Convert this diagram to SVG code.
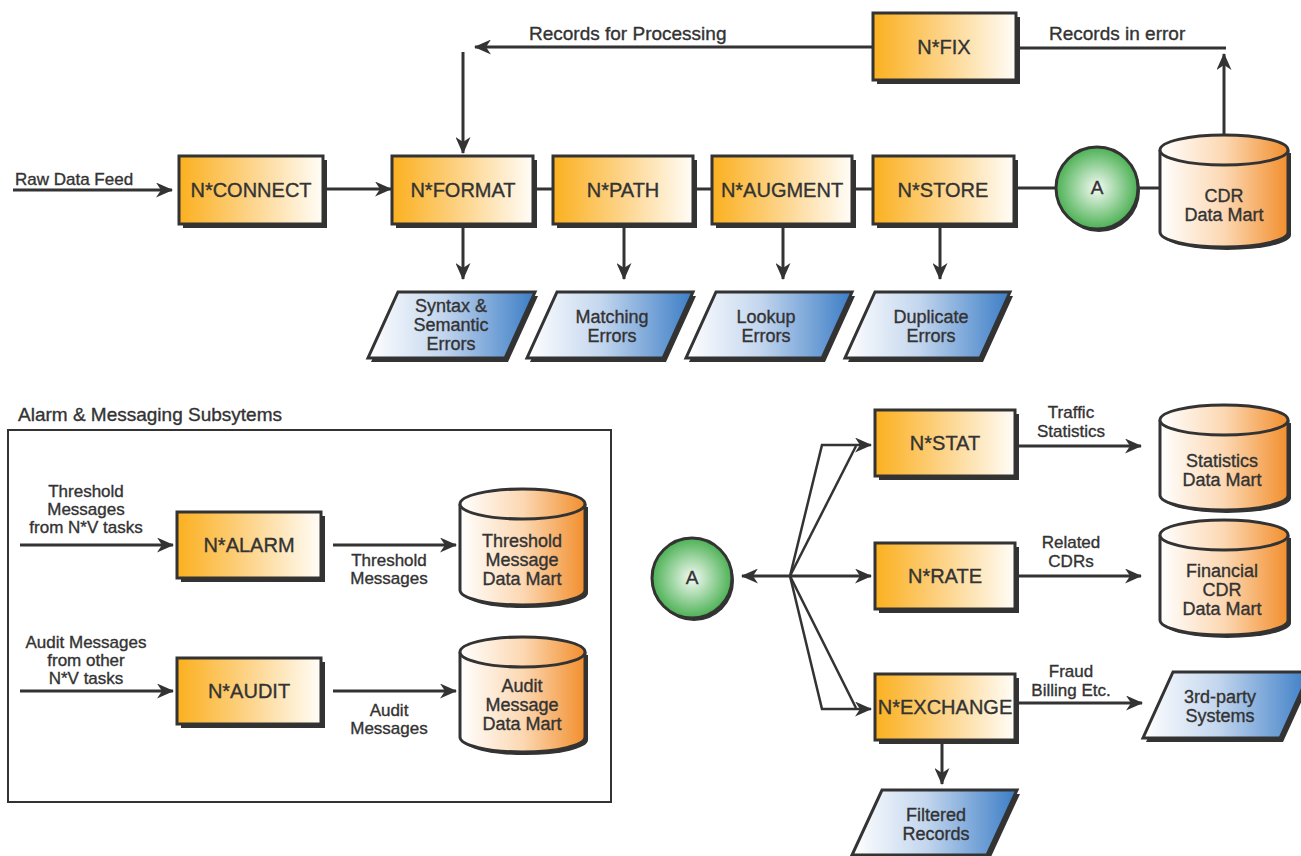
<svg xmlns="http://www.w3.org/2000/svg" width="1301" height="856" viewBox="0 0 1301 856">
<defs>
<linearGradient id="gBox" x1="0" y1="0" x2="1" y2="0"><stop offset="0" stop-color="#fbb01f"/><stop offset="0.5" stop-color="#fdd48a"/><stop offset="1" stop-color="#fffdf8"/></linearGradient>
<linearGradient id="gPar" x1="0" y1="0" x2="1" y2="0"><stop offset="0" stop-color="#ffffff"/><stop offset="0.45" stop-color="#c3d6ee"/><stop offset="1" stop-color="#3b7dc6"/></linearGradient>
<linearGradient id="gCyl" x1="0" y1="0" x2="1" y2="0"><stop offset="0" stop-color="#ffffff"/><stop offset="0.5" stop-color="#fcd8b3"/><stop offset="1" stop-color="#f28f2e"/></linearGradient>
<radialGradient id="gCir" cx="0.5" cy="0.5" r="0.5"><stop offset="0" stop-color="#f5fbf5"/><stop offset="1" stop-color="#4cb154"/></radialGradient>
<marker id="ah" markerWidth="17" markerHeight="15" refX="16" refY="7.5" orient="auto" markerUnits="userSpaceOnUse"><path d="M0,0 L17,7.5 L0,15 L5,7.5 Z" fill="#333"/></marker>
</defs>
<style>
.sh{fill:#333}
.box{fill:url(#gBox);stroke:#333;stroke-width:3}
.par{fill:url(#gPar);stroke:#333;stroke-width:3}
.cyl{fill:url(#gCyl);stroke:#333;stroke-width:3}
.cir{fill:url(#gCir);stroke:#333;stroke-width:3}
text{font-family:"Liberation Sans",Arial,sans-serif;fill:#333;stroke:#333;stroke-width:0.35}
.bl{font-size:20px;text-anchor:middle}
.el{font-size:19px}
.lc{font-size:17px;text-anchor:middle}
.nt{font-size:18px;text-anchor:middle}
.ln{fill:none;stroke:#333;stroke-width:3}
.la{fill:none;stroke:#333;stroke-width:3;marker-end:url(#ah)}
.fan{fill:none;stroke:#333;stroke-width:2.5}
</style>
<rect width="1301" height="856" fill="#fff"/>

<g id="connectors">
<path class="la" d="M13,190 H172"/>
<path class="la" d="M323,189 H391"/>
<path class="ln" d="M533,189 H873"/>
<path class="ln" d="M1015,188 H1160"/>
<path class="la" d="M463,224 V279"/>
<path class="la" d="M624,224 V279"/>
<path class="la" d="M783,224 V279"/>
<path class="la" d="M940,224 V279"/>
<path class="la" d="M873,47 H475"/>
<path class="la" d="M463,52 V153"/>
<path class="ln" d="M1016,48 H1226"/>
<path class="la" d="M1224,150 V54"/>
<path class="la" d="M790,576 H742"/>
<path class="la" d="M790,576 H871"/>
<path class="la fan" d="M790,576 L822,445 H871"/>
<path class="fan" d="M790,576 L856,446"/>
<path class="la fan" d="M790,576 L822,709 H871"/>
<path class="fan" d="M790,576 L856,708"/>
<path class="la" d="M1017,446 H1141"/>
<path class="la" d="M1017,576 H1141"/>
<path class="la" d="M1017,703 H1142"/>
<path class="la" d="M942,741 V784"/>
<path class="la" d="M20,545 H173"/>
<path class="la" d="M333,545 H456"/>
<path class="la" d="M20,691 H173"/>
<path class="la" d="M333,691 H456"/>
</g>

<g id="edge-labels">
<text class="el" x="15" y="185" style="font-size:17px">Raw Data Feed</text>
<text class="el" x="529" y="40">Records for Processing</text>
<text class="el" x="1049" y="40">Records in error</text>
<text class="lc" x="1071" y="418">Traffic</text>
<text class="lc" x="1071" y="437">Statistics</text>
<text class="lc" x="1071" y="548">Related</text>
<text class="lc" x="1071" y="567">CDRs</text>
<text class="lc" x="1071" y="677">Fraud</text>
<text class="lc" x="1071" y="696">Billing Etc.</text>
<text class="lc" x="86" y="497">Threshold</text>
<text class="lc" x="86" y="515">Messages</text>
<text class="lc" x="86" y="533">from N*V tasks</text>
<text class="lc" x="389" y="566">Threshold</text>
<text class="lc" x="389" y="584">Messages</text>
<text class="lc" x="86" y="648">Audit Messages</text>
<text class="lc" x="86" y="666">from other</text>
<text class="lc" x="86" y="684">N*V tasks</text>
<text class="lc" x="389" y="716">Audit</text>
<text class="lc" x="389" y="734">Messages</text>
</g>

<g id="subsystem-frame">
<rect x="8" y="430" width="603" height="372" fill="none" stroke="#333" stroke-width="2"/>
<text x="18" y="421" style="font-size:19px">Alarm &amp; Messaging Subsytems</text>
</g>

<g id="n-connect"><rect class="sh" x="183" y="160" width="144" height="68"/><rect class="box" x="179" y="156" width="144" height="68"/><text class="bl" x="251" y="197">N*CONNECT</text></g>
<g id="n-format"><rect class="sh" x="396" y="160" width="141" height="68"/><rect class="box" x="392" y="156" width="141" height="68"/><text class="bl" x="463" y="197">N*FORMAT</text></g>
<g id="n-path"><rect class="sh" x="557" y="160" width="140" height="68"/><rect class="box" x="553" y="156" width="140" height="68"/><text class="bl" x="623" y="197">N*PATH</text></g>
<g id="n-augment"><rect class="sh" x="716" y="160" width="140" height="68"/><rect class="box" x="712" y="156" width="140" height="68"/><text class="bl" x="782" y="197">N*AUGMENT</text></g>
<g id="n-store"><rect class="sh" x="877" y="160" width="141" height="68"/><rect class="box" x="873" y="156" width="141" height="68"/><text class="bl" x="943" y="197">N*STORE</text></g>
<g id="n-fix"><rect class="sh" x="877" y="17" width="143" height="67"/><rect class="box" x="873" y="13" width="143" height="67"/><text class="bl" x="944" y="54">N*FIX</text></g>

<g id="circle-a-top"><circle class="sh" cx="1099" cy="191" r="41"/><circle class="cir" cx="1097" cy="188" r="41"/><text class="nt" x="1097" y="194" style="font-size:19px">A</text></g>

<g id="cdr-data-mart">
<path class="sh" d="M1163,153 V235 A64,15 0 0 0 1291,235 V153 Z"/>
<path class="cyl" d="M1160,150 V232 A64,15 0 0 0 1288,232 V150"/>
<ellipse class="cyl" cx="1224" cy="150" rx="64" ry="15"/>
<text class="nt" x="1224" y="202">CDR</text><text class="nt" x="1224" y="221">Data Mart</text>
</g>

<g id="syntax-errors"><polygon class="sh" points="401,296 538,296 508,362 371,362"/><polygon class="par" points="398,292 535,292 505,358 368,358"/><text class="nt" x="451" y="312">Syntax &amp;</text><text class="nt" x="451" y="331">Semantic</text><text class="nt" x="451" y="350">Errors</text></g>
<g id="matching-errors"><polygon class="sh" points="560,296 696,296 666,362 530,362"/><polygon class="par" points="557,292 693,292 663,358 527,358"/><text class="nt" x="612" y="323">Matching</text><text class="nt" x="612" y="342">Errors</text></g>
<g id="lookup-errors"><polygon class="sh" points="719,296 855,296 825,362 689,362"/><polygon class="par" points="716,292 852,292 822,358 686,358"/><text class="nt" x="766" y="323">Lookup</text><text class="nt" x="766" y="342">Errors</text></g>
<g id="duplicate-errors"><polygon class="sh" points="878,296 1013,296 983,362 848,362"/><polygon class="par" points="875,292 1010,292 980,358 845,358"/><text class="nt" x="931" y="323">Duplicate</text><text class="nt" x="931" y="342">Errors</text></g>

<g id="n-alarm"><rect class="sh" x="181" y="516" width="144" height="66"/><rect class="box" x="177" y="512" width="144" height="66"/><text class="bl" x="249" y="552">N*ALARM</text></g>
<g id="n-audit"><rect class="sh" x="181" y="662" width="144" height="66"/><rect class="box" x="177" y="658" width="144" height="66"/><text class="bl" x="249" y="698">N*AUDIT</text></g>

<g id="threshold-data-mart">
<path class="sh" d="M463,507 V593 A62,15 0 0 0 588,593 V507 Z"/>
<path class="cyl" d="M460,504 V590 A62.5,15 0 0 0 585,590 V504"/>
<ellipse class="cyl" cx="522.5" cy="504" rx="62.5" ry="15"/>
<text class="nt" x="522" y="547">Threshold</text><text class="nt" x="522" y="566">Message</text><text class="nt" x="522" y="585">Data Mart</text>
</g>
<g id="audit-data-mart">
<path class="sh" d="M463,655 V740 A62,15 0 0 0 588,740 V655 Z"/>
<path class="cyl" d="M460,652 V737 A62.5,15 0 0 0 585,737 V652"/>
<ellipse class="cyl" cx="522.5" cy="652" rx="62.5" ry="15"/>
<text class="nt" x="522" y="692">Audit</text><text class="nt" x="522" y="711">Message</text><text class="nt" x="522" y="730">Data Mart</text>
</g>

<g id="circle-a-bottom"><circle class="sh" cx="694" cy="581" r="40"/><circle class="cir" cx="692" cy="578" r="40"/><text class="nt" x="692" y="584" style="font-size:19px">A</text></g>

<g id="n-stat"><rect class="sh" x="879" y="414" width="140" height="66"/><rect class="box" x="875" y="410" width="140" height="66"/><text class="bl" x="945" y="450">N*STAT</text></g>
<g id="n-rate"><rect class="sh" x="879" y="547" width="140" height="66"/><rect class="box" x="875" y="543" width="140" height="66"/><text class="bl" x="945" y="583">N*RATE</text></g>
<g id="n-exchange"><rect class="sh" x="879" y="678" width="140" height="66"/><rect class="box" x="875" y="674" width="140" height="66"/><text class="bl" x="945" y="714">N*EXCHANGE</text></g>

<g id="statistics-data-mart">
<path class="sh" d="M1163,423 V498 A64,15 0 0 0 1291,498 V423 Z"/>
<path class="cyl" d="M1160,420 V495 A64,15 0 0 0 1288,495 V420"/>
<ellipse class="cyl" cx="1224" cy="420" rx="64" ry="15"/>
<text class="nt" x="1222" y="467">Statistics</text><text class="nt" x="1222" y="486">Data Mart</text>
</g>
<g id="financial-data-mart">
<path class="sh" d="M1163,538 V623 A64,15 0 0 0 1291,623 V538 Z"/>
<path class="cyl" d="M1160,535 V620 A64,15 0 0 0 1288,620 V535"/>
<ellipse class="cyl" cx="1224" cy="535" rx="64" ry="15"/>
<text class="nt" x="1222" y="577">Financial</text><text class="nt" x="1222" y="596">CDR</text><text class="nt" x="1222" y="615">Data Mart</text>
</g>

<g id="third-party"><polygon class="sh" points="1176,676 1313,676 1283,742 1146,742"/><polygon class="par" points="1173,672 1310,672 1280,738 1143,738"/><text class="nt" x="1220" y="703">3rd-party</text><text class="nt" x="1220" y="722">Systems</text></g>
<g id="filtered-records"><polygon class="sh" points="885,794 1020,794 990,859 855,859"/><polygon class="par" points="882,790 1017,790 987,855 852,855"/><text class="nt" x="936" y="821">Filtered</text><text class="nt" x="936" y="840">Records</text></g>
</svg>
